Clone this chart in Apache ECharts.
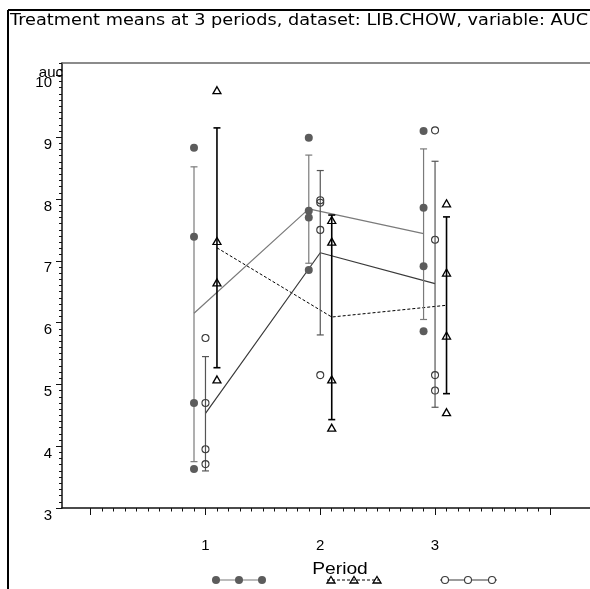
<!DOCTYPE html>
<html>
<head>
<meta charset="utf-8">
<script src="https://cdn.jsdelivr.net/npm/echarts@6/dist/echarts.min.js"></script>
<style>html,body{margin:0;padding:0;background:#fff}#c{width:590px;height:589px}</style>
</head>
<body>
<div id="c"></div>
<script>
// ---- data ----
const periods = [1, 2, 3];
const xTickValues = [0, 1, 2, 3, 4];
const xTickLabels = [1, 2, 3];
const yTickValues = [3, 4, 5, 6, 7, 8, 9, 10];
const titleText = 'Treatment means at 3 periods, dataset: LIB.CHOW, variable: AUC';
const xAxisTitle = 'Period';
const yAxisTitle = 'auc';

// individual observations per period (4 each)
const filledPts = [[8.83, 7.39, 4.70, 3.63], [8.99, 7.81, 7.70, 6.85], [9.10, 7.86, 6.91, 5.86]];
const openPts   = [[5.75, 4.70, 3.95, 3.71], [7.98, 7.94, 7.50, 5.15], [9.11, 7.34, 5.15, 4.90]];
const triPts    = [[9.76, 7.32, 6.65, 5.08], [7.66, 7.31, 5.08, 4.30], [7.93, 6.81, 5.79, 4.55]];

// treatment means
const filledMean = [6.15, 7.84, 7.44];
const openMean   = [4.53, 7.13, 6.63];
const triMean    = [7.21, 6.09, 6.28];

// error bar ends
const filledLow  = [3.75, 6.96, 6.05];
const filledHigh = [8.52, 8.71, 8.81];
const openLow    = [3.60, 5.80, 4.63];
const openHigh   = [5.45, 8.46, 8.61];
const triLow     = [5.27, 4.43, 4.85];
const triHigh    = [9.15, 7.74, 7.71];

// ---- layout/style ----
const OFF = { filled: -0.1, open: 0, tri: 0.1 };
const C_FILLED = '#5c5c5c', C_FILLED_LINE = '#7a7a7a', C_OPEN = '#3a3a3a', C_TRI = '#000';

function pts(arr, off) {
  const out = [];
  arr.forEach((vals, i) => vals.forEach(v => out.push([periods[i] + off, v])));
  return out;
}
function means(arr, off) { return arr.map((v, i) => [periods[i] + off, v]); }
function bars(lo, hi, off) { return lo.map((v, i) => [periods[i] + off, v, hi[i]]); }

function errSeries(lo, hi, off, color, width) {
  return {
    type: 'custom', xAxisIndex: 0, yAxisIndex: 0, z: 3,
    data: bars(lo, hi, off),
    renderItem: function (params, api) {
      const x = api.value(0);
      const p1 = api.coord([x, api.value(1)]);
      const p2 = api.coord([x, api.value(2)]);
      const h = 3.5;
      const st = { stroke: color, lineWidth: width };
      return { type: 'group', children: [
        { type: 'line', shape: { x1: p1[0], y1: p1[1], x2: p2[0], y2: p2[1] }, style: st },
        { type: 'line', shape: { x1: p1[0] - h, y1: p1[1], x2: p1[0] + h, y2: p1[1] }, style: st },
        { type: 'line', shape: { x1: p2[0] - h, y1: p2[1], x2: p2[0] + h, y2: p2[1] }, style: st }
      ]};
    }
  };
}

const minorX = [];
for (let i = 0; i <= 40; i++) if (i % 10) minorX.push(i / 10);
const minorY = [];
for (let i = 30; i <= 102; i++) if (i % 10) minorY.push(i / 10);

const X_MIN = -0.25, X_MAX = 4.35;

const chart = echarts.init(document.getElementById('c'), null, { renderer: 'canvas' });
const option = {
  animation: false,
  backgroundColor: '#fff',
  grid: { left: 62, top: 63, width: 543, height: 445, show: false },
  xAxis: [{
    type: 'value', min: X_MIN, max: X_MAX,
    axisLine: { show: true, onZero: false, lineStyle: { color: '#111', width: 1.5 } },
    axisTick: { show: true, customValues: xTickValues, length: 7, inside: false, lineStyle: { color: '#111', width: 1 } },
    axisLabel: { customValues: xTickLabels, margin: 30, fontFamily: 'Liberation Sans', fontSize: 15, color: '#000' },
    splitLine: { show: false }
  }, {
    type: 'value', min: X_MIN, max: X_MAX, position: 'bottom', offset: 0,
    axisLine: { show: false, onZero: false },
    axisTick: { show: true, customValues: minorX, length: 3.5, lineStyle: { color: '#111', width: 1 } },
    axisLabel: { show: false }, splitLine: { show: false }
  }, {
    type: 'value', min: X_MIN, max: X_MAX, position: 'top', offset: 0,
    axisLine: { show: true, onZero: false, lineStyle: { color: '#666', width: 1.5 } },
    axisTick: { show: false }, axisLabel: { show: false }, splitLine: { show: false }
  }],
  yAxis: [{
    type: 'value', min: 3, max: 10.2,
    axisLine: { show: true, onZero: false, lineStyle: { color: '#111', width: 1.5 } },
    axisTick: { show: true, customValues: yTickValues, length: 6, lineStyle: { color: '#111', width: 1 } },
    axisLabel: { customValues: yTickValues, margin: 10, verticalAlign: 'top', fontFamily: 'Liberation Sans', fontSize: 15, color: '#000' },
    splitLine: { show: false }
  }, {
    type: 'value', min: 3, max: 10.2, position: 'left', offset: 0,
    axisLine: { show: false, onZero: false },
    axisTick: { show: true, customValues: minorY, length: 3, lineStyle: { color: '#111', width: 1 } },
    axisLabel: { show: false }, splitLine: { show: false }
  }],
  series: [
    { type: 'line', data: means(filledMean, OFF.filled), symbol: 'none', z: 2,
      lineStyle: { color: C_FILLED_LINE, width: 1.2 } },
    { type: 'line', data: means(triMean, OFF.tri), symbol: 'none', z: 2,
      lineStyle: { color: C_TRI, width: 1, type: [3, 2] } },
    { type: 'line', data: means(openMean, OFF.open), symbol: 'none', z: 2,
      lineStyle: { color: C_OPEN, width: 1.2 } },
    errSeries(filledLow, filledHigh, OFF.filled, C_FILLED_LINE, 1.2),
    errSeries(openLow, openHigh, OFF.open, '#555', 1.2),
    errSeries(triLow, triHigh, OFF.tri, C_TRI, 1.6),
    { type: 'scatter', data: pts(filledPts, OFF.filled), symbol: 'circle', symbolSize: 8, z: 4,
      itemStyle: { color: C_FILLED, opacity: 1 } },
    { type: 'scatter', data: pts(openPts, OFF.open), symbol: 'circle', symbolSize: 7, z: 4,
      itemStyle: { color: 'rgba(0,0,0,0)', borderColor: C_OPEN, borderWidth: 1.1, opacity: 1 } },
    { type: 'scatter', data: pts(triPts, OFF.tri), symbol: 'triangle', symbolSize: [8, 7], z: 4,
      itemStyle: { color: 'rgba(0,0,0,0)', borderColor: C_TRI, borderWidth: 1.3, opacity: 1 } }
  ],
  graphic: [
    { type: 'text', x: 10, y: 14, scaleX: 1.18,
      style: { text: titleText, fontFamily: 'DejaVu Sans', fontSize: 15, fill: '#000' } },
    { type: 'text', x: 340, y: 570, scaleX: 1.2,
      style: { text: xAxisTitle, fontFamily: 'Liberation Sans', fontSize: 16, fill: '#000', align: 'center', verticalAlign: 'middle' } },
    { type: 'text', x: 63, y: 73, z: 10,
      style: { text: yAxisTitle, fontFamily: 'Liberation Sans', fontSize: 15, fill: '#000', align: 'right', verticalAlign: 'middle' } },
    { type: 'line', shape: { x1: 8, y1: 10, x2: 8, y2: 589 }, style: { stroke: '#000', lineWidth: 2 } },
    { type: 'line', shape: { x1: 8, y1: 10, x2: 590, y2: 10 }, style: { stroke: '#000', lineWidth: 2 } },
    // legend row
    { type: 'line', shape: { x1: 212, y1: 580, x2: 265, y2: 580 }, style: { stroke: C_FILLED_LINE, lineWidth: 1.2 } },
    { type: 'circle', shape: { cx: 216, cy: 580, r: 4 }, style: { fill: C_FILLED } },
    { type: 'circle', shape: { cx: 239, cy: 580, r: 4 }, style: { fill: C_FILLED } },
    { type: 'circle', shape: { cx: 262, cy: 580, r: 4 }, style: { fill: C_FILLED } },
    { type: 'line', shape: { x1: 327, y1: 580, x2: 382, y2: 580 }, style: { stroke: '#000', lineWidth: 1, lineDash: [3, 2] } },
    { type: 'polygon', shape: { points: [[331, 576.5], [335, 583], [327, 583]] }, style: { fill: 'none', stroke: '#000', lineWidth: 1.3 } },
    { type: 'polygon', shape: { points: [[354, 576.5], [358, 583], [350, 583]] }, style: { fill: 'none', stroke: '#000', lineWidth: 1.3 } },
    { type: 'polygon', shape: { points: [[377, 576.5], [381, 583], [373, 583]] }, style: { fill: 'none', stroke: '#000', lineWidth: 1.3 } },
    { type: 'line', shape: { x1: 440, y1: 580, x2: 497, y2: 580 }, style: { stroke: C_OPEN, lineWidth: 1.2 } },
    { type: 'circle', shape: { cx: 445, cy: 580, r: 3.5 }, style: { fill: '#fff', stroke: C_OPEN, lineWidth: 1.1 } },
    { type: 'circle', shape: { cx: 468, cy: 580, r: 3.5 }, style: { fill: '#fff', stroke: C_OPEN, lineWidth: 1.1 } },
    { type: 'circle', shape: { cx: 492, cy: 580, r: 3.5 }, style: { fill: '#fff', stroke: C_OPEN, lineWidth: 1.1 } }
  ]
};
chart.setOption(option);
</script>
</body>
</html>
